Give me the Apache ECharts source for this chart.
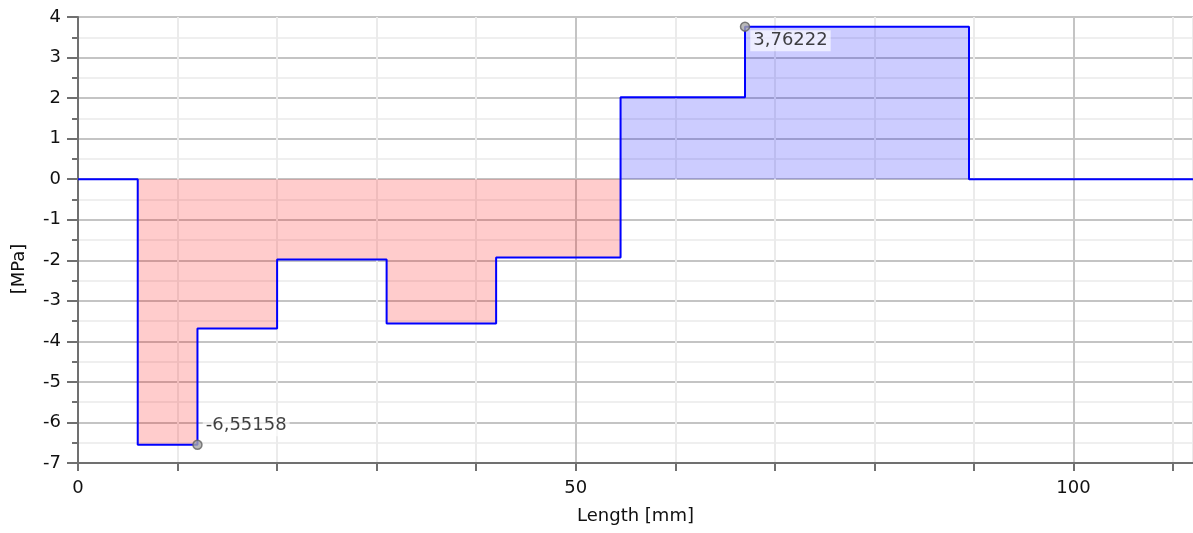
<!DOCTYPE html>
<html>
<head>
<meta charset="utf-8">
<script src="https://cdn.jsdelivr.net/npm/echarts@6/dist/echarts.min.js"></script>
<style>
html,body{margin:0;padding:0;background:#fff;}
#chart{width:1193px;height:533px;}
</style>
</head>
<body>
<div id="chart"></div>
<script>
// Segment boundaries along the length [mm] and the stress value on each segment [MPa]
const segmentBreaks = [0, 6, 12, 20, 31, 42, 54.5, 67, 89.5, 112];
const segmentValues = [0, -6.55158, -3.68, -1.98, -3.56, -1.93, 2.02, 3.76222, 0];
// Annotated extreme points
const peakX = [12, 67];
const peakY = [-6.55158, 3.76222];
// Axis settings
const xMin = 0, xMax = 112, xLabelStep = 50, xTickStep = 10;
const yMin = -7, yMax = 4, yStep = 1;
const xAxisName = 'Length [mm]';
const yAxisName = '[MPa]';

function stepPoints(fn) {
  const pts = [];
  for (let i = 0; i < segmentValues.length; i++) {
    const v = fn(segmentValues[i]);
    pts.push([segmentBreaks[i], v]);
    pts.push([segmentBreaks[i + 1], v]);
  }
  return pts;
}
const linePts = stepPoints(v => v);
const negPts = stepPoints(v => Math.min(v, 0));
const posPts = stepPoints(v => Math.max(v, 0));

const FONT = 'DejaVu Sans';
const FS = 18;
const TXT = '#111';
const fmt = v => String(v).replace('.', ',');

const chart = echarts.init(document.getElementById('chart'), null, {renderer: 'canvas'});
chart.setOption({
  animation: false,
  backgroundColor: '#ffffff',
  grid: {left: 78, right: 0, top: 17, bottom: 70, containLabel: false},
  xAxis: {
    type: 'value', min: xMin, max: xMax, interval: xTickStep,
    name: xAxisName, nameLocation: 'middle', nameGap: 44,
    nameTextStyle: {fontFamily: FONT, fontSize: FS, color: TXT},
    axisLine: {show: true, onZero: false, lineStyle: {color: '#707070', width: 2}},
    axisTick: {show: true, length: 8, lineStyle: {color: '#707070', width: 2}},
    axisLabel: {
      fontFamily: FONT, fontSize: FS, color: TXT, margin: 16, showMaxLabel: false,
      formatter: v => (v % xLabelStep === 0 ? String(v) : '')
    },
    splitLine: {show: true, lineStyle: {width: 2, color: ['#c4c4c4', '#ebebeb', '#ebebeb', '#ebebeb', '#ebebeb']}}
  },
  yAxis: {
    type: 'value', min: yMin, max: yMax, interval: yStep,
    name: yAxisName, nameLocation: 'middle', nameGap: 50,
    nameTextStyle: {fontFamily: FONT, fontSize: FS, color: TXT, padding: [0, 0, 0, -58]},
    axisLine: {show: true, onZero: false, lineStyle: {color: '#707070', width: 2}},
    axisTick: {show: true, length: 11, lineStyle: {color: '#707070', width: 2}},
    minorTick: {show: true, splitNumber: 2, length: 6, lineStyle: {color: '#707070', width: 2}},
    axisLabel: {fontFamily: FONT, fontSize: FS, color: TXT, margin: 17},
    splitLine: {show: true, lineStyle: {color: '#c4c4c4', width: 2}},
    minorSplitLine: {show: true, lineStyle: {color: '#efefef', width: 2}}
  },
  series: [
    {
      type: 'line', data: negPts, symbol: 'none', silent: true, z: 1,
      lineStyle: {width: 0, opacity: 0},
      areaStyle: {color: 'rgba(255,0,0,0.2)', opacity: 1, origin: 0}
    },
    {
      type: 'line', data: posPts, symbol: 'none', silent: true, z: 1,
      lineStyle: {width: 0, opacity: 0},
      areaStyle: {color: 'rgba(0,0,255,0.2)', opacity: 1, origin: 0}
    },
    {
      type: 'line', data: linePts, symbol: 'none', silent: true, z: 3,
      lineStyle: {color: '#0000ff', width: 2}
    },
    {
      type: 'scatter', silent: true, z: 5,
      symbol: 'circle', symbolSize: 9,
      itemStyle: {color: '#a8a8a8', borderColor: '#606060', borderWidth: 1.5},
      data: [
        {value: [peakX[0], peakY[0]], label: {offset: [0, -19]}},
        {value: [peakX[1], peakY[1]], label: {offset: [0, 14]}}
      ],
      label: {
        show: true, position: 'right', distance: 0,
        fontFamily: FONT, fontSize: FS, color: TXT,
        backgroundColor: 'rgba(255,255,255,0.8)', padding: [2, 3, 1, 3],
        formatter: p => fmt(p.value[1])
      }
    }
  ]
});
</script>
</body>
</html>
